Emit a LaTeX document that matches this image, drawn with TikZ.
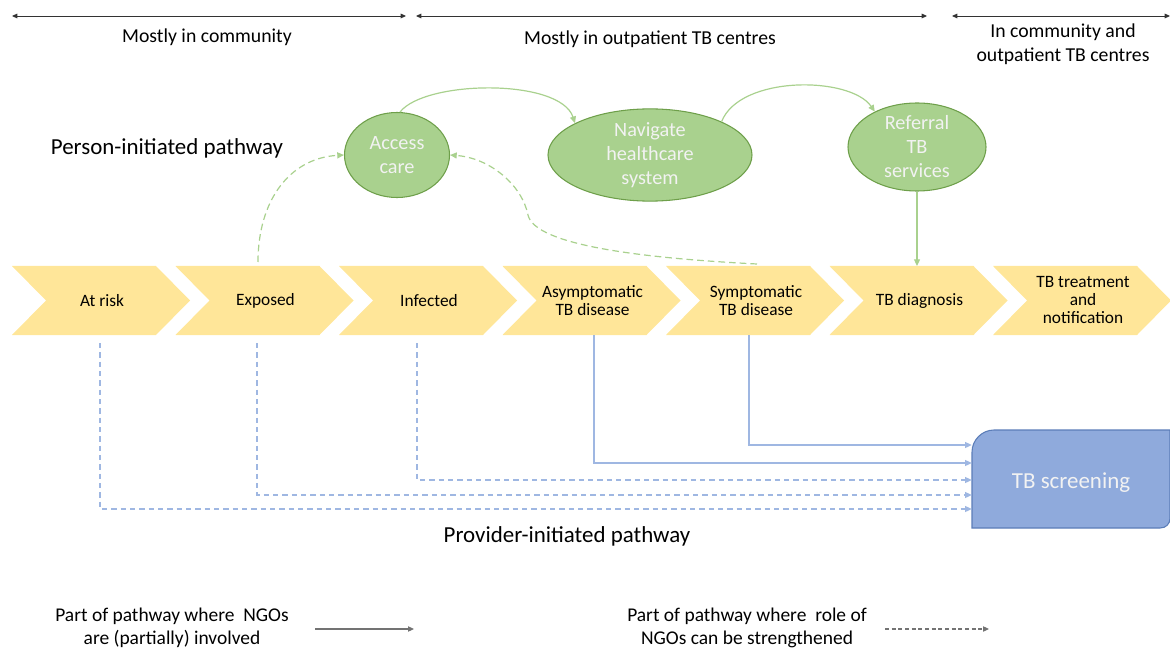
\documentclass[tikz,border=0pt]{standalone}
\usepackage{fontspec}
\setmainfont{Carlito}
\usetikzlibrary{arrows.meta,shapes.geometric}
\definecolor{chev}{HTML}{FFE699}
\definecolor{gfill}{HTML}{A9D18E}
\definecolor{gdraw}{HTML}{6E9F4A}
\definecolor{gline}{HTML}{A9D18E}
\definecolor{bfill}{HTML}{8FAADC}
\definecolor{bdraw}{HTML}{5B7DB8}
\definecolor{bline}{HTML}{9FB7E2}
\definecolor{ltxt}{HTML}{F2F2F2}
\begin{document}
\begin{tikzpicture}[x=0.75pt,y=-0.75pt,
  lbl/.style={font=\fontsize{14.8}{18}\selectfont, align=center, inner sep=0pt},
  leglbl/.style={font=\fontsize{14.6}{17.25}\selectfont, align=center, inner sep=0pt},
  biglbl/.style={font=\fontsize{17.2}{20}\selectfont, inner sep=0pt},
  chevtext/.style={font=\fontsize{13}{13.5}\selectfont, align=center, inner sep=0pt},
  greenell/.style={ellipse, fill=gfill, draw=gdraw, line width=0.8pt, text=ltxt,
    font=\fontsize{15.2}{18}\selectfont, align=center, inner sep=0pt},
  span/.style={{Triangle[length=4pt,width=3.5pt]}-{Triangle[length=4pt,width=3.5pt]}, draw=black!80, line width=0.7pt},
  garrow/.style={-{Triangle[length=5pt,width=4.5pt]}, draw=gline, line width=0.9pt},
  garrowd/.style={garrow, dashed, dash pattern=on 5pt off 3pt},
  barrow/.style={-{Triangle[length=5pt,width=4.5pt]}, draw=bline, line width=0.9pt},
  barrowd/.style={barrow, dash pattern=on 4pt off 3pt},
  legarrow/.style={-{Triangle[length=4.5pt,width=4pt]}, draw=black!55, line width=0.8pt}
]
\useasboundingbox (0,0) rectangle (1170,652);

% span arrows along the top
\coordinate (s1a) at (12,16);   \coordinate (s1b) at (406,16);
\coordinate (s2a) at (416,16);  \coordinate (s2b) at (927,16);
\coordinate (s3a) at (952,16);  \coordinate (s3b) at (1170,16);
\draw[span] (s1a) -- (s1b);
\draw[span] (s2a) -- (s2b);
\draw[span] (s3a) -- (s3b);
\node[lbl] (zone1) at (207,37) {Mostly in community};
\node[lbl] (zone2) at (650,39) {Mostly in outpatient TB centres};
\node[lbl] (zone3) at (1063,44) {In community and\\outpatient TB centres};

% pathway labels
\node[biglbl] (pip) at (167,148) {Person-initiated pathway};
\node[biglbl] (prp) at (567,536) {Provider-initiated pathway};

% chevrons of the care cascade
\foreach \i/\t in {1/{At risk},2/{Exposed},3/{Infected},4/{Asymptomatic\\TB disease},
                   5/{Symptomatic\\TB disease},6/{TB diagnosis},7/{TB treatment\\and\\notification}} {
  \pgfmathsetmacro\xx{12+163.5*(\i-1)}
  \fill[chev] (\xx,266) -- (\xx+144,266) -- (\xx+178,300.5) -- (\xx+144,335)
    -- (\xx,335) -- (\xx+34,300.5) -- cycle;
  \node[chevtext] (c\i) at (\xx+90,300.5) {\t};
}

% person-initiated steps (sizes in pt)
\node[greenell, minimum width=78.75pt, minimum height=63.75pt] (acc) at (397,155) {Access\\care};
\node[greenell, minimum width=153pt, minimum height=63.75pt] (nav) at (650,155) {Navigate\\healthcare\\system};
\node[greenell, minimum width=103.5pt, minimum height=65.25pt] (ref) at (917,147) {Referral\\TB\\services};

\draw[garrow] (acc.86) .. controls (425,80) and (560,78) .. (nav.157);
\draw[garrow] (nav.25) .. controls (740,75) and (850,76) .. (ref.140);
\coordinate (t6) at (917,266);
\draw[garrow] (ref.south) -- (t6);

\coordinate (e2) at (258,262);
\draw[garrowd] (e2) .. controls (258,200) and (290,158) .. (acc.west);
\coordinate (e5) at (757,264);
\draw[garrowd] (e5) .. controls (640,258) and (535,245) .. (528,215)
  .. controls (522,185) and (490,158) .. (acc.east);

% provider-initiated screening
\node[inner sep=0pt, minimum width=148.5pt, minimum height=73.5pt] (scr) at (1071,479) {};
\filldraw[fill=bfill, draw=bdraw, line width=0.8pt]
  (972,528) -- (972,452) .. controls (972,440) and (982,430) .. (994,430)
  -- (1170,430) -- (1170,518) .. controls (1170,524) and (1166,528) .. (1160,528) -- cycle;
\node[biglbl, text=ltxt] (scrtxt) at ([yshift=-3pt]scr.center) {TB screening};

\coordinate (p5) at (749,335);
\coordinate (p4) at (594,335);
\coordinate (p3) at (417,343);
\coordinate (p2) at (257,343);
\coordinate (p1) at (100,343);
\draw[barrow]  (p5) |- ([yshift=25.5pt]scr.west);
\draw[barrow]  (p4) |- ([yshift=12pt]scr.west);
\draw[barrowd] (p3) |- ([yshift=-0.75pt]scr.west);
\draw[barrowd] (p2) |- ([yshift=-12pt]scr.west);
\draw[barrowd] (p1) |- ([yshift=-22.5pt]scr.west);

% legend
\node[leglbl] (leg1) at (172,628) {Part of pathway where\ \ NGOs\\are (partially) involved};
\coordinate (l1a) at (315,629); \coordinate (l1b) at (414,629);
\draw[legarrow] (l1a) -- (l1b);
\node[leglbl] (leg2) at (747,628) {Part of pathway where\ \ role of\\NGOs can be strengthened};
\coordinate (l2a) at (885,629); \coordinate (l2b) at (989,629);
\draw[legarrow, dash pattern=on 3pt off 2pt] (l2a) -- (l2b);
\end{tikzpicture}
\end{document}
